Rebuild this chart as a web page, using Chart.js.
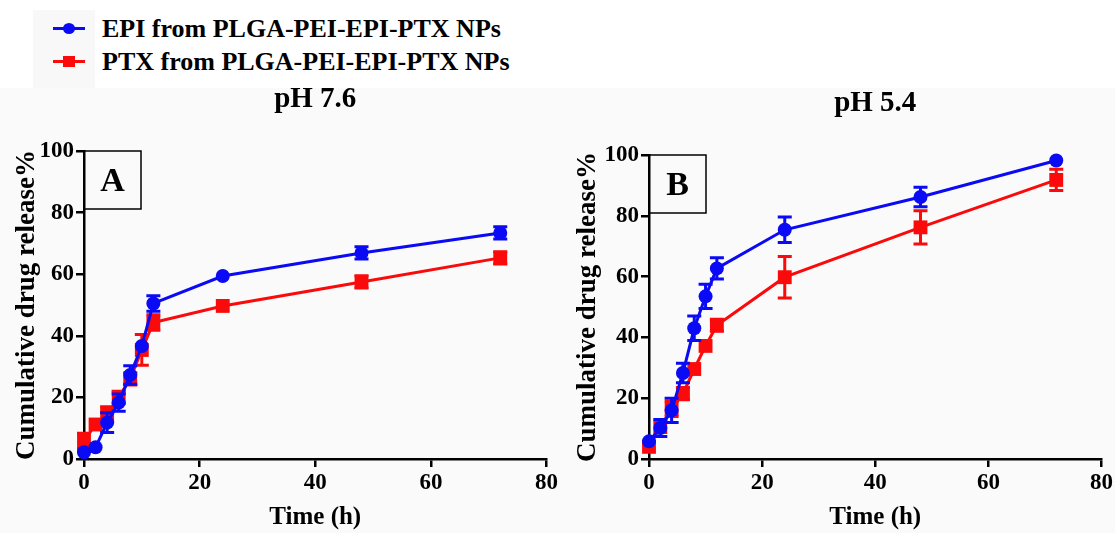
<!DOCTYPE html>
<html>
<head>
<meta charset="utf-8">
<script src="https://cdn.jsdelivr.net/npm/chart.js@4.4.1/dist/chart.umd.min.js"></script>
<style>
  html, body { margin: 0; padding: 0; width: 1115px; height: 533px; overflow: hidden; background: #ffffff; }
  body { position: relative; font-family: "Liberation Serif", "Times New Roman", serif; }
  #legendBg { position: absolute; left: 33px; top: 10px; width: 62px; height: 78px; background: #f8f8f8; }
  #legend { position: absolute; left: 53px; top: 12px; }
  .row { display: flex; align-items: center; height: 33px; }
  .sym { position: relative; width: 32px; height: 33px; flex: none; }
  .sym .ln { position: absolute; left: 0; right: 0; top: 15px; height: 3px; }
  .sym .mk { position: absolute; left: 10px; top: 11px; width: 12px; height: 11px; }
  .sym .mk.circle { border-radius: 50%; }
  .txt { margin-left: 17px; font-weight: bold; font-size: 26px; color: #000; white-space: nowrap; }
  canvas.panel { position: absolute; top: 88px; background: #fafafa; }
</style>
</head>
<body>
<div id="legendBg"></div>
<div id="legend"></div>
<canvas id="chartA" class="panel" width="560" height="445" style="left:0px"></canvas>
<canvas id="chartB" class="panel" width="555" height="445" style="left:560px"></canvas>
<script>
// Sampling times (h) and axis ticks
const TIME = [0, 2, 4, 6, 8, 10, 12, 24, 48, 72];
const X_TICKS = [0, 20, 40, 60, 80];
const Y_TICKS = [0, 20, 40, 60, 80, 100];

// Series
const SERIES_NAMES = ['EPI from PLGA-PEI-EPI-PTX NPs', 'PTX from PLGA-PEI-EPI-PTX NPs'];
const SERIES_COLORS = ['#0a0af5', '#fa0a0a'];
const SERIES_MARKERS = ['circle', 'rect'];

// pH 7.6 release (%), mean and SD
const EPI_PH76    = [2.2, 3.8, 11.8, 18.3, 27.3, 36.7, 50.5, 59.4, 66.9, 73.4];
const EPI_PH76_SD = [0.8, 0.8, 3.2, 2.8, 3.0, 1.0, 2.5, 0.6, 2.0, 2.0];
const PTX_PH76    = [5.9, 11.2, 14.5, 20.0, 26.0, 35.4, 44.3, 49.7, 57.5, 65.3];
const PTX_PH76_SD = [2.5, 1.0, 2.5, 2.0, 2.0, 5.0, 2.5, 1.5, 2.0, 2.0];

// pH 5.4 release (%), mean and SD
const EPI_PH54    = [5.8, 10.2, 16.0, 28.3, 43.0, 53.5, 62.7, 75.4, 86.2, 98.2];
const EPI_PH54_SD = [1.0, 2.8, 4.0, 3.2, 4.0, 4.0, 3.5, 4.2, 3.2, 1.2];
const PTX_PH54    = [4.0, 10.5, 16.5, 21.5, 29.6, 37.2, 44.0, 59.8, 76.2, 91.8];
const PTX_PH54_SD = [1.5, 1.5, 2.5, 2.0, 1.5, 1.0, 2.0, 6.8, 5.5, 3.5];

// Panel texts
const PANEL_TITLES = ['pH 7.6', 'pH 5.4'];
const PANEL_LETTERS = ['A', 'B'];
const X_TITLE = 'Time (h)';
const Y_TITLE = 'Cumulative drug release%';

const FONT = '"Liberation Serif", "Times New Roman", serif';

// Shared legend
(function buildLegend() {
  const box = document.getElementById('legend');
  SERIES_NAMES.forEach((name, i) => {
    const row = document.createElement('div');
    row.className = 'row';
    const sym = document.createElement('span');
    sym.className = 'sym';
    const ln = document.createElement('span');
    ln.className = 'ln';
    ln.style.background = SERIES_COLORS[i];
    const mk = document.createElement('span');
    mk.className = 'mk' + (SERIES_MARKERS[i] === 'circle' ? ' circle' : '');
    mk.style.background = SERIES_COLORS[i];
    sym.appendChild(ln);
    sym.appendChild(mk);
    const txt = document.createElement('span');
    txt.className = 'txt';
    txt.textContent = name;
    row.appendChild(sym);
    row.appendChild(txt);
    box.appendChild(row);
  });
})();

// Error bars (mean ± SD) and the panel title / letter box
const panelDecor = {
  id: 'panelDecor',
  afterDatasetDraw(chart, args, opts) {
    const sd = opts.sd[args.index];
    const ds = chart.data.datasets[args.index];
    const ys = chart.scales.y;
    const ctx = chart.ctx;
    ctx.save();
    ctx.strokeStyle = ds.borderColor;
    ctx.lineWidth = 3;
    args.meta.data.forEach((pt, i) => {
      const v = ds.data[i].y;
      const hi = ys.getPixelForValue(v + sd[i]);
      const lo = ys.getPixelForValue(v - sd[i]);
      if ((lo - hi) / 2 <= 6) return;
      ctx.beginPath();
      ctx.moveTo(pt.x, hi); ctx.lineTo(pt.x, lo);
      ctx.moveTo(pt.x - 7, hi); ctx.lineTo(pt.x + 7, hi);
      ctx.moveTo(pt.x - 7, lo); ctx.lineTo(pt.x + 7, lo);
      ctx.stroke();
    });
    ctx.restore();
  },
  afterDraw(chart, args, opts) {
    const ctx = chart.ctx;
    const a = chart.chartArea;
    ctx.save();
    ctx.fillStyle = '#000';
    ctx.textAlign = 'center';
    ctx.textBaseline = 'middle';
    ctx.font = 'bold 29px ' + FONT;
    ctx.fillText(opts.title, (a.left + a.right) / 2, a.top - 51);
    ctx.strokeStyle = '#000';
    ctx.lineWidth = 1.5;
    ctx.strokeRect(a.left, a.top, 57, 58);
    ctx.font = 'bold 34px ' + FONT;
    ctx.fillText(opts.letter, a.left + 28.5, a.top + 31);
    ctx.restore();
  }
};

function axisCommon() {
  return {
    border: { color: '#000', width: 2.5 },
    grid: { drawOnChartArea: false, drawTicks: true, color: '#000', lineWidth: 2.5, tickLength: 8 },
    ticks: { color: '#000', font: { family: FONT, size: 23, weight: 'bold' } }
  };
}

function buildChart(id, idx, epi, epiSd, ptx, ptxSd, geom) {
  const xAxis = axisCommon();
  const yAxis = axisCommon();
  return new Chart(document.getElementById(id), {
    type: 'line',
    data: {
      datasets: [
        { label: SERIES_NAMES[0], data: TIME.map((t, i) => ({ x: t, y: epi[i] })),
          borderColor: SERIES_COLORS[0], backgroundColor: SERIES_COLORS[0],
          pointStyle: SERIES_MARKERS[0], pointRadius: 7, pointBorderWidth: 0,
          borderWidth: 3, tension: 0, clip: false },
        { label: SERIES_NAMES[1], data: TIME.map((t, i) => ({ x: t, y: ptx[i] })),
          borderColor: SERIES_COLORS[1], backgroundColor: SERIES_COLORS[1],
          pointStyle: SERIES_MARKERS[1], pointRadius: 9.8, pointBorderWidth: 0,
          borderWidth: 3, tension: 0, clip: false }
      ]
    },
    options: {
      responsive: false,
      animation: false,
      events: [],
      layout: { padding: { top: geom.top, right: geom.right, left: 0, bottom: 0 } },
      plugins: {
        legend: { display: false },
        tooltip: { enabled: false },
        panelDecor: { title: PANEL_TITLES[idx], letter: PANEL_LETTERS[idx], sd: [epiSd, ptxSd] }
      },
      scales: {
        x: Object.assign(xAxis, {
          type: 'linear', min: 0, max: 80,
          afterBuildTicks: s => { s.ticks = X_TICKS.map(v => ({ value: v })); },
          afterFit: s => { s.height = geom.xh; },
          ticks: Object.assign(xAxis.ticks, { padding: 2, maxRotation: 0 }),
          title: { display: true, text: X_TITLE, color: '#000',
                   font: { family: FONT, size: 25, weight: 'bold' }, padding: { top: 0, bottom: 0 } }
        }),
        y: Object.assign(yAxis, {
          type: 'linear', min: 0, max: 100,
          afterBuildTicks: s => { s.ticks = Y_TICKS.map(v => ({ value: v })); },
          afterFit: s => { s.width = geom.yw; },
          ticks: Object.assign(yAxis.ticks, { padding: 2 }),
          title: { display: true, text: Y_TITLE, color: '#000',
                   font: { family: FONT, size: 27, weight: 'bold' }, padding: { top: geom.ytp, bottom: 0 } }
        })
      }
    },
    plugins: [panelDecor]
  });
}

buildChart('chartA', 0, EPI_PH76, EPI_PH76_SD, PTX_PH76, PTX_PH76_SD,
  { top: 63, right: 11, xh: 74, yw: 84, ytp: 11 });
buildChart('chartB', 1, EPI_PH54, EPI_PH54_SD, PTX_PH54, PTX_PH54_SD,
  { top: 67, right: 13, xh: 74, yw: 89, ytp: 12 });
</script>
</body>
</html>
